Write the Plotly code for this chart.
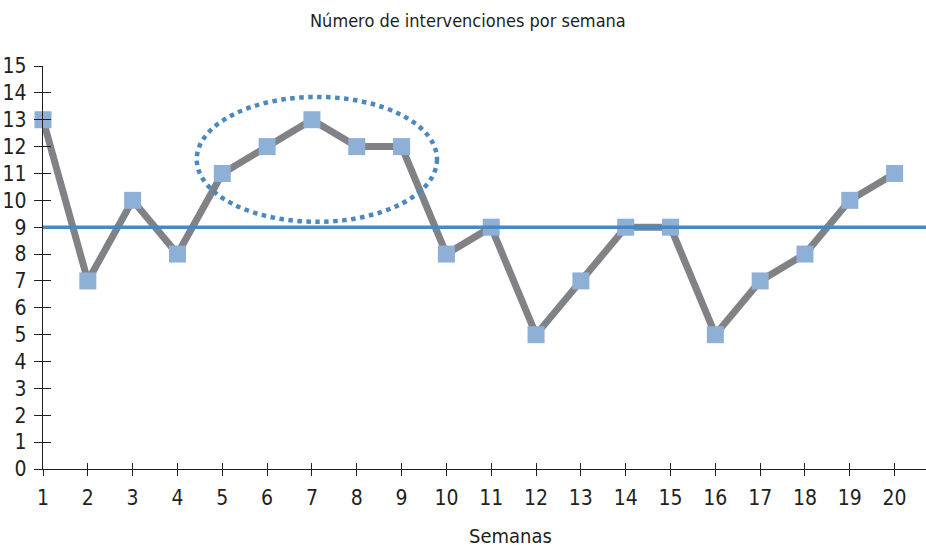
import plotly.graph_objects as go

semanas = list(range(1, 21))
intervenciones = [13, 7, 10, 8, 11, 12, 13, 12, 12, 8, 9, 5, 7, 9, 9, 5, 7, 8, 10, 11]
media = 9
y_ticks = list(range(0, 16))

FONT = "DejaVu Sans Condensed, Liberation Sans Narrow, sans-serif"
INK = "#231f20"
W, H = 926, 549
L, R, T, B = 43, 0, 66, 80
PW, PH = W - L - R, H - T - B

fig = go.Figure()
fig.add_trace(
    go.Scatter(
        x=semanas,
        y=intervenciones,
        mode="lines+markers",
        line=dict(color="#808285", width=7),
        marker=dict(symbol="square", size=17, color="#8eafd6"),
        cliponaxis=False,
        showlegend=False,
        hoverinfo="x+y",
    )
)
# dummy trace so the overlay axes (inside half of the cross ticks) get drawn
fig.add_trace(
    go.Scatter(x=[1], y=[0], xaxis="x2", yaxis="y2", mode="markers",
               marker=dict(opacity=0), showlegend=False, hoverinfo="skip")
)

fig.add_hline(y=media, line=dict(color="#4a88c0", width=3.5))
fig.add_shape(
    type="circle", xref="x", yref="y",
    x0=4.43, x1=9.79, y0=9.2, y1=13.85,
    line=dict(color="#4a88c0", width=4.5, dash="dot"),
)

fig.add_annotation(
    text="Número de intervenciones por semana",
    xref="paper", yref="paper", x=(468 - L) / PW, y=1 + (T - 20) / PH,
    xanchor="center", yanchor="middle", showarrow=False,
    font=dict(size=18, color=INK),
)
fig.add_annotation(
    text="Semanas",
    xref="paper", yref="paper", x=(510 - L) / PW, y=-(536 - (T + PH)) / PH,
    xanchor="center", yanchor="middle", showarrow=False,
    font=dict(size=20, color=INK),
)

axis_common = dict(showgrid=False, zeroline=False, tickcolor=INK, tickwidth=1.3, automargin=False)

fig.update_layout(
    width=W,
    height=H,
    paper_bgcolor="white",
    plot_bgcolor="white",
    font=dict(family=FONT, color=INK, size=21),
    margin=dict(l=L, r=R, t=T, b=B),
    xaxis=dict(
        **axis_common,
        range=[1, 20.7],
        tickmode="array", tickvals=semanas,
        ticks="outside", ticklen=6,
        showline=True, linecolor=INK, linewidth=1.3,
        ticklabelstandoff=4,
    ),
    yaxis=dict(
        **axis_common,
        range=[0, 15],
        tickmode="array", tickvals=y_ticks,
        ticks="outside", ticklen=8,
        showline=True, linecolor=INK, linewidth=1.3,
        ticklabelstandoff=3,
    ),
    xaxis2=dict(
        **axis_common,
        overlaying="x", anchor="y2", range=[1, 20.7],
        tickmode="array", tickvals=semanas,
        ticks="inside", ticklen=6, showticklabels=False,
    ),
    yaxis2=dict(
        **axis_common,
        overlaying="y", anchor="x2", range=[0, 15],
        tickmode="array", tickvals=y_ticks,
        ticks="inside", ticklen=8, showticklabels=False,
    ),
)

# drop the default page margin so the figure sits at the top-left corner
fig.write_html(
    "out.html",
    config={"displayModeBar": False},
    post_script="document.body.style.margin='0';",
)
